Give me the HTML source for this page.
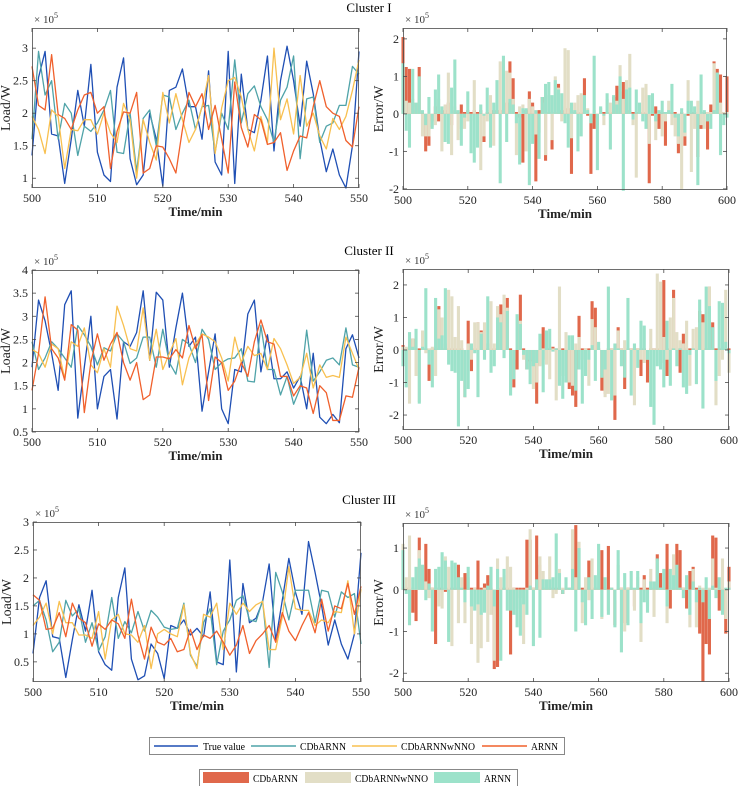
<!DOCTYPE html>
<html><head><meta charset="utf-8"><style>
body{margin:0;background:#fff;}
svg{display:block;font-family:"Liberation Serif",serif;}
</style></head><body>
<svg id="fig" width="739" height="786" viewBox="0 0 739 786" xmlns="http://www.w3.org/2000/svg">
<text x="369" y="12" text-anchor="middle" font-size="13">Cluster I</text>
<text x="369" y="255" text-anchor="middle" font-size="13">Cluster II</text>
<text x="369" y="504" text-anchor="middle" font-size="13">Cluster III</text>
<g id="legend1">
<rect x="149.5" y="737.5" width="415" height="17" fill="#fff" stroke="#888"/>
<line x1="154" y1="746" x2="198" y2="746" stroke="#1f4fb4" stroke-width="1.5"/>
<text x="203" y="750" font-size="10.5" textLength="42" lengthAdjust="spacingAndGlyphs">True value</text>
<line x1="251" y1="746" x2="296" y2="746" stroke="#4fa3a8" stroke-width="1.5"/>
<text x="300" y="750" font-size="10.5" textLength="46" lengthAdjust="spacingAndGlyphs">CDbARNN</text>
<line x1="352" y1="746" x2="397" y2="746" stroke="#f8c050" stroke-width="1.5"/>
<text x="401" y="750" font-size="10.5" textLength="74" lengthAdjust="spacingAndGlyphs">CDbARNNwNNO</text>
<line x1="482" y1="746" x2="527" y2="746" stroke="#f0602c" stroke-width="1.5"/>
<text x="531" y="750" font-size="10.5" textLength="27" lengthAdjust="spacingAndGlyphs">ARNN</text>
</g>
<g id="legend2">
<rect x="199.5" y="769.5" width="318" height="17" fill="#fff" stroke="#888"/>
<rect x="203" y="772" width="46" height="11" fill="#e0684b"/>
<text x="253" y="782" font-size="10.5" textLength="45" lengthAdjust="spacingAndGlyphs">CDbARNN</text>
<rect x="305" y="772" width="46" height="11" fill="#e2dec6"/>
<text x="355" y="782" font-size="10.5" textLength="73" lengthAdjust="spacingAndGlyphs">CDbARNNwNNO</text>
<rect x="434" y="772" width="46" height="11" fill="#9ce2ca"/>
<text x="484" y="782" font-size="10.5" textLength="27" lengthAdjust="spacingAndGlyphs">ARNN</text>
</g>
</svg>
<script>
// ---------- Line data (x = 500..550) ----------
const lineTime = [500,501,502,503,504,505,506,507,508,509,510,511,512,513,514,515,516,517,518,519,520,521,522,523,524,525,526,527,528,529,530,531,532,533,534,535,536,537,538,539,540,541,542,543,544,545,546,547,548,549,550];
const c1True=[1.35,2.55,2.95,1.68,1.65,0.92,1.6,2.35,1.8,2.75,1.4,1.05,0.95,2.4,2.85,1.3,0.9,1.05,2.0,1.6,0.88,2.35,2.4,2.68,2.1,2.1,1.6,2.65,1.25,1.05,2.95,0.92,2.6,1.75,1.7,2.2,2.88,1.42,2.5,3.03,2.5,1.8,2.8,2.3,1.6,1.1,1.45,1.05,0.85,1.5,2.95];
const c1Cdb=[1.6,2.95,2.28,2.5,1.6,2.15,2.0,1.35,1.8,1.72,1.85,2.05,2.35,1.4,1.38,2.0,1.1,1.92,2.05,1.5,2.28,2.25,1.75,2.0,2.2,1.75,2.1,2.12,1.4,2.0,1.75,2.82,1.85,2.3,2.42,2.1,1.9,1.55,2.2,2.4,2.88,1.3,2.22,2.25,1.55,1.8,1.85,2.12,2.12,2.72,2.6];
const c1Wnno=[1.95,1.75,1.38,2.05,1.95,1.15,1.75,1.73,1.9,1.9,1.68,2.0,1.7,1.55,2.15,1.9,1.0,1.9,1.55,1.28,2.32,1.85,2.3,1.9,1.55,1.75,2.1,2.58,1.38,2.08,2.5,2.55,2.25,1.75,1.42,1.95,1.55,3.0,1.9,2.22,1.68,2.58,1.8,2.0,1.65,1.45,1.92,1.75,1.95,2.35,2.82];
const c1Arnn=[2.72,2.12,2.05,2.9,1.98,1.92,1.75,2.05,2.28,2.32,2.0,2.1,1.15,1.72,2.02,2.0,2.32,1.08,1.15,1.5,1.48,1.3,1.08,1.75,2.32,2.1,2.3,1.75,2.12,1.6,1.08,2.48,1.78,1.48,1.98,1.9,1.52,1.55,1.7,1.12,1.42,1.65,1.62,2.1,2.5,2.1,2.0,1.95,1.58,1.48,2.1];
const c2True=[1.9,3.35,2.9,2.2,1.4,3.25,3.55,0.8,1.9,3.0,1.0,1.7,1.85,0.78,2.45,2.35,2.65,3.55,2.05,3.52,3.35,1.9,2.75,3.5,2.35,2.55,0.95,1.8,2.62,1.0,0.68,1.85,1.8,3.05,3.35,1.8,2.6,1.65,1.65,1.8,1.45,1.7,1.0,2.2,0.82,0.68,0.88,0.7,2.3,2.6,2.1];
const c2Cdb=[2.45,1.85,2.1,2.45,2.3,2.1,1.9,2.8,2.6,2.35,1.95,2.32,2.25,2.62,2.45,1.98,2.1,2.55,2.55,1.9,2.72,2.0,1.75,2.5,2.4,2.0,2.72,2.5,1.85,2.0,2.08,2.1,2.3,1.6,1.58,2.8,1.85,1.85,1.3,1.7,1.1,1.45,2.7,1.6,1.8,2.05,2.1,1.95,2.75,1.95,1.9];
const c2Wnno=[2.28,2.2,1.9,2.4,2.3,1.65,2.45,2.35,2.75,1.95,1.78,2.3,1.9,3.22,2.8,2.3,2.25,3.18,2.05,2.72,1.85,2.2,2.52,1.52,2.1,2.4,2.62,2.55,2.45,2.1,1.6,2.55,2.0,2.35,2.15,2.2,1.85,2.52,2.3,1.95,1.55,1.68,2.2,1.45,1.95,1.68,1.72,1.68,2.55,2.2,1.85];
const c2Arnn=[1.4,2.2,3.42,2.3,2.1,1.62,2.82,2.7,0.92,2.0,2.62,2.05,2.4,2.65,2.0,1.62,2.0,1.2,1.3,2.12,2.12,2.08,2.28,2.1,2.8,2.3,2.6,1.18,2.12,2.0,1.4,1.6,2.0,1.7,2.45,2.92,2.45,2.4,1.7,1.7,1.28,1.5,1.45,0.9,1.5,1.35,0.75,0.75,1.28,1.25,1.9];
const c3True=[0.65,1.65,1.95,0.95,0.92,0.22,0.9,1.52,1.05,1.78,0.68,0.45,0.35,1.65,2.18,0.55,0.18,0.25,0.82,0.65,0.2,1.15,1.1,1.25,0.98,1.1,0.95,1.75,0.5,0.45,2.32,0.32,1.9,1.2,1.28,1.58,2.25,0.88,1.6,2.35,1.75,1.35,2.65,2.1,1.5,0.8,1.25,0.82,0.55,1.0,2.45];
const c3Cdb=[1.5,1.6,1.25,0.68,0.85,1.6,1.32,1.45,0.85,1.2,0.7,0.95,1.65,0.92,1.22,1.02,1.4,1.05,1.42,1.3,1.12,1.08,1.1,1.55,0.62,0.42,1.2,1.45,0.45,1.05,1.25,1.6,1.68,1.25,1.22,1.6,0.4,2.1,1.75,1.25,1.78,1.78,1.78,1.2,1.78,1.75,1.3,1.75,1.65,1.72,0.82];
const c3Wnno=[1.15,1.3,1.55,1.0,1.58,1.2,1.2,0.98,0.98,0.92,1.4,0.55,1.25,1.35,1.0,0.98,0.85,1.15,0.38,1.0,1.08,1.0,0.95,1.52,0.65,0.38,1.35,1.3,1.55,0.72,1.55,1.35,1.55,1.4,1.52,1.58,0.72,0.72,1.3,2.2,1.45,1.42,1.42,1.15,1.25,1.2,1.4,1.38,1.95,1.0,1.8];
const c3Arnn=[1.7,1.6,1.08,1.1,1.38,0.95,1.55,1.28,1.2,0.78,1.18,1.08,1.25,1.18,0.92,1.62,0.98,0.55,1.12,0.85,0.8,0.92,0.68,0.72,1.08,0.72,0.98,0.92,1.05,0.85,0.62,0.8,1.15,0.65,0.88,1.0,1.15,0.85,1.38,1.05,0.88,1.15,1.38,1.02,1.62,1.05,1.5,1.45,1.9,1.35,1.85];

// ---------- Error bar data (x = 500..600) ----------
const e1Arnn=[1.35,-0.45,-0.9,1.2,0.3,1.0,0.1,-0.3,0.45,-0.4,0.65,1.05,0.2,-0.75,-0.8,0.7,1.45,0.1,-0.85,-0.1,0.6,-1.05,-1.3,-0.9,0.25,-0.05,0.7,-0.9,0.3,0.9,-1.85,1.55,-0.75,0.4,0.25,-0.25,-1.35,0.15,0.15,-1.9,-0.8,0.1,-1.2,0.45,0.8,0.85,0.5,0.9,0.65,0.55,-0.25,-0.9,0.3,0.1,-1.0,-0.6,0.5,0.1,-0.25,1.55,-1.5,0.2,-0.05,0.55,-0.95,0.5,0.25,1.0,-2.05,0.65,0.7,-0.15,0.65,0.3,-0.2,-0.4,0.5,0.55,-0.2,0.1,0.35,0.05,0.1,0.8,-0.1,-0.6,0.15,-0.5,0.35,0.35,0.2,-1.9,1.05,0.1,-0.2,-0.4,0.1,1.1,-1.1,-0.3,-0.1];
const e1Wnno=[0.9,0.35,0.3,0.4,0.2,0.9,-0.6,-0.6,-0.6,-0.35,-0.3,0.4,-1.0,0.25,1.1,-1.1,0.2,-0.7,-0.4,-0.4,-0.2,-0.2,0.9,-0.3,-1.5,-0.6,-0.2,0.5,-0.85,0.25,1.4,1.4,1.15,1.1,0.4,-1.1,0.2,0.25,-1.0,0.4,0.2,-0.55,-0.5,0.3,-1.1,0.5,-0.7,1.0,0.7,-0.2,1.75,1.7,-0.65,0.3,0.5,0.55,0.2,0.15,-0.2,0.1,-0.3,0.15,-0.3,0.4,0.3,0.35,0.35,1.3,0.4,0.9,1.6,-0.3,-1.7,0.1,0.7,0.8,-0.8,0.05,-0.7,0.05,-0.6,-0.2,0.35,-0.3,-0.6,-0.8,-2.0,-0.6,0.9,-1.55,-0.4,0.35,-0.3,-0.4,0.05,0.05,1.35,1.1,0.3,0.05,0.05];
const e1Cdb=[2.05,1.25,1.2,0.3,0.1,1.25,0.05,-1.0,-0.85,-0.2,0.2,-0.2,0.1,0.1,0.3,-0.3,0.1,0.05,0.25,0.05,0.1,0.05,0.1,0.05,0.1,-0.75,0.05,0.1,0.1,0.1,0.1,0.1,0.3,1.4,0.95,0.05,-0.1,-1.3,0.1,0.6,0.3,-1.8,0.1,0.45,-1.25,0.05,-0.95,0.05,0.8,0.1,0.2,0.15,-1.6,0.05,0.05,0.05,0.95,-0.05,-1.6,-0.4,-0.1,0.05,0.05,0.05,0.05,0.45,0.75,0.6,0.85,0.1,0.1,0.05,0.05,0.05,0.05,0.5,-1.85,-0.05,0.2,-0.4,0.05,-0.85,0.05,0.05,0.05,-1.05,0.05,-0.85,-0.05,0.05,0.05,-1.15,-0.4,0.05,-0.95,0.25,1.4,1.2,1.05,0.05,1.0];
const e2Arnn=[-0.5,-1.15,0.55,0.1,0.65,-1.65,0.1,1.9,-0.45,-1.15,1.6,0.35,0.45,1.9,-0.45,-0.65,-0.7,-2.35,-0.95,-1.45,-1.2,0.2,-0.1,-1.45,0.5,-0.3,1.65,-0.7,-0.5,1.0,0.85,-0.25,1.2,-1.4,-0.9,1.1,0.8,-0.15,-0.6,-1.05,-0.5,-0.4,0.5,-1.3,0.6,0.65,-0.05,0.05,-1.1,-1.5,-1.0,0.45,0.45,-1.25,-0.6,-1.65,-0.8,-0.3,0.15,-0.95,0.25,-0.85,-0.6,1.95,-1.55,0.2,0.05,-0.5,-0.85,1.6,-1.4,0.2,-0.55,0.9,0.75,-0.3,-1.75,-2.3,-0.5,-0.6,-1.15,0.9,-1.1,0.05,-0.5,0.05,-1.15,-1.35,-0.15,0.05,-1.05,1.55,-1.8,1.95,1.35,0.7,-0.95,1.5,1.45,0.25,-0.1];
const e2Wnno=[0.1,0.1,-1.65,0.35,-0.8,-1.6,0.6,-0.1,0.05,0.1,-0.8,1.25,1.0,0.2,1.85,1.65,0.4,1.35,0.3,-0.6,0.2,-0.3,0.85,0.85,0.55,0.85,0.2,1.5,0.2,1.35,1.1,1.7,1.3,-0.3,-0.3,0.05,0.9,-0.3,-0.3,-0.3,-1.2,-1.0,-0.5,0.05,-0.45,-0.9,0.05,-1.55,1.95,-0.8,0.55,-1.0,-1.1,0.2,0.4,-0.3,0.05,-1.1,0.95,0.7,0.05,-0.85,-1.45,-1.35,0.05,-1.4,0.6,0.05,0.3,0.05,0.05,-1.7,0.05,-0.3,-0.4,-0.3,0.65,0.05,2.35,2.1,0.4,-0.3,1.0,1.6,0.55,0.3,0.2,0.9,-1.1,0.65,0.7,0.85,0.85,0.05,1.95,0.05,-1.7,-0.8,-0.3,1.85,-0.7];
const e2Cdb=[0.15,0.05,0.05,0.35,0.05,0.05,0.05,0.05,-0.95,0.05,0.05,1.35,0.05,0.05,0.05,0.05,0.05,0.05,0.05,-1.45,0.9,-0.65,0.05,0.85,0.6,0.05,0.05,0.05,0.05,0.05,1.4,0.05,1.6,0.05,-1.15,-0.6,1.7,0.05,-0.6,-0.35,-0.5,-1.65,-0.45,0.7,-0.3,0.05,0.1,0.05,0.05,0.05,0.05,-1.2,-1.4,-1.75,1.05,0.05,0.05,0.05,1.5,1.3,0.05,-1.25,-1.35,0.05,0.05,-2.15,0.7,0.05,-1.2,0.05,0.05,0.05,0.05,-0.8,0.05,-1.0,0.05,0.05,0.05,-0.4,2.15,-0.8,0.05,1.85,0.05,-0.7,0.5,0.05,0.05,0.05,0.05,1.2,1.1,0.05,1.95,0.85,0.05,0.05,0.05,0.05,0.05];
const e3Arnn=[0.95,-0.1,-0.85,0.3,0.55,0.75,0.6,-0.25,0.15,-1.0,0.5,0.55,0.9,0.7,-1.25,0.7,0.65,0.3,0.05,-0.3,0.55,-0.4,-0.5,-0.35,-0.6,-0.55,0.1,0.55,-0.4,0.5,-1.7,0.5,-0.5,-0.5,-0.6,-0.9,-1.1,-0.35,-0.6,0.1,-1.35,0.25,-1.15,0.25,0.25,0.25,0.3,1.35,0.4,-0.1,0.3,0.05,0.5,-1.0,1.0,-0.3,-0.85,0.3,-0.7,0.35,1.1,-0.65,0.3,-0.6,0.05,-0.9,0.95,-1.5,0.4,-0.85,0.45,0.05,0.45,-0.8,-0.3,-0.55,0.2,0.2,0.75,0.05,0.5,-0.4,0.5,0.35,0.6,0.05,-0.2,0.35,-0.6,0.2,-0.3,0.05,-0.3,0.3,-0.7,0.1,-0.2,0.3,-0.6,0.05,0.05];
const e3Wnno=[1.1,0.3,1.3,0.05,0.3,0.95,0.05,0.2,-0.2,0.05,0.05,-0.4,-0.45,0.8,0.55,-1.35,0.05,-0.8,0.3,-0.8,0.3,-1.3,0.05,-1.75,-1.4,0.05,-1.25,-0.6,-1.7,0.75,0.3,0.35,0.8,0.55,0.05,-0.45,-0.2,-1.3,0.05,1.45,0.05,0.05,0.8,0.45,0.05,0.8,-0.2,-0.1,0.5,0.05,0.05,0.05,1.45,0.3,1.15,-0.8,0.3,-0.25,0.75,0.05,0.05,-0.7,0.05,-0.5,0.05,-0.25,0.6,0.05,-1.0,0.05,0.05,-0.5,0.3,-1.25,0.25,-0.4,0.5,-0.65,0.7,0.05,0.05,-0.8,0.05,0.85,0.05,0.05,0.05,0.3,-0.9,0.5,-0.9,0.1,0.05,0.05,0.05,0.75,0.05,0.05,0.75,-0.7,0.2];
const e3Cdb=[0.05,0.05,0.05,-0.55,-0.75,1.25,0.05,1.1,0.5,0.05,-1.3,0.05,0.05,-0.05,0.05,0.05,0.05,0.6,0.05,0.4,0.05,0.05,0.05,0.7,0.05,0.15,0.35,0.05,-1.9,-1.85,0.05,0.05,0.05,-1.55,0.05,0.05,0.05,0.05,1.2,1.2,0.05,1.3,0.6,0.05,0.05,0.05,0.05,0.05,0.05,-0.1,0.05,0.05,0.05,1.55,0.05,0.05,0.05,0.7,0.05,0.05,0.05,0.95,0.05,1.05,0.05,-0.85,0.05,0.05,-0.8,0.05,0.05,-0.4,0.05,0.05,0.35,0.05,0.05,0.05,0.85,0.4,0.05,1.1,-0.45,0.05,1.1,0.95,0.05,-0.45,0.45,0.55,0.05,-1.05,-2.2,-1.3,-1.55,1.3,1.25,-0.5,0.05,-1.05,0.55];
const barTime=[];for(let i=500;i<=600;i++)barTime.push(i);

// tick labels
const xTicksLeft=[500,510,520,530,540,550];
const xTicksRight=[500,520,540,560,580,600];
const yTicks1L=[1,1.5,2,2.5,3], yTicks1R=[-2,-1,0,1,2];
const yTicks2L=[0.5,1,1.5,2,2.5,3,3.5,4], yTicks2R=[-2,-1,0,1,2];
const yTicks3L=[0.5,1,1.5,2,2.5,3], yTicks3R=[-2,-1,0,1];

const NS="http://www.w3.org/2000/svg";
const svg=document.getElementById('fig');
function mk(tag,attrs,parent){const e=document.createElementNS(NS,tag);for(const k in attrs)e.setAttribute(k,attrs[k]);(parent||svg).appendChild(e);return e;}

function axes(p){
  const g=mk('g',{});
  
  
  const sx=v=>p.x0+(v-p.xmin)/(p.xmax-p.xmin)*(p.x1-p.x0);
  const sy=v=>p.y1-(v-p.ymin)/(p.ymax-p.ymin)*(p.y1-p.y0);
  p.sx=sx;p.sy=sy;p.g=g;
  mk('rect',{x:p.x0,y:p.y0,width:p.x1-p.x0,height:p.y1-p.y0,fill:'#fff'},g);
  return g;
}
function frame(p){
  const g=p.g;
  mk('rect',{x:p.x0+0.5,y:p.y0+0.5,width:p.x1-p.x0-1,height:p.y1-p.y0-1,fill:'none',stroke:'#4a4a4a','stroke-width':0.8},g);
  p.xt.forEach(v=>{const x=p.sx(v);
    mk('line',{x1:x,y1:p.y1,x2:x,y2:p.y1-4,stroke:'#4a4a4a','stroke-width':0.8},g);
    mk('line',{x1:x,y1:p.y0,x2:x,y2:p.y0+4,stroke:'#4a4a4a','stroke-width':0.8},g);
    const t=mk('text',{x:x,y:p.y1+14,'text-anchor':'middle','font-size':12,fill:'#222'},g);t.textContent=v;
    
    
  });
  p.yt.forEach(v=>{const y=p.sy(v);
    mk('line',{x1:p.x0,y1:y,x2:p.x0+4,y2:y,stroke:'#4a4a4a','stroke-width':0.8},g);
    mk('line',{x1:p.x1,y1:y,x2:p.x1-4,y2:y,stroke:'#4a4a4a','stroke-width':0.8},g);
    const t=mk('text',{x:p.x0-4,y:y+4,'text-anchor':'end','font-size':12,fill:'#222'},g);t.textContent=v;
    
    
  });
  const m=mk('text',{x:p.x0+2,y:p.y0-5,'font-size':11,fill:'#333'},g);
  m.innerHTML='× 10<tspan dy="-5" font-size="8">5</tspan>';
  
  
  const xl=mk('text',{x:(p.x0+p.x1)/2,y:p.y1+28,'text-anchor':'middle','font-size':13,'font-weight':'bold',fill:'#222'},g);xl.textContent='Time/min';
  
  
  const cy=(p.y0+p.y1)/2, cx=p.x0-(p.ylab==='Error/W'?20:22);
  const yl=mk('text',{x:cx,y:cy,'text-anchor':'middle','font-size':14,fill:'#222',transform:`rotate(-90 ${cx} ${cy})`},g);yl.textContent=p.ylab;
  
  
}
function linePanel(p,series){
  axes(p);
  const cols=['#1f4fb4','#4fa3a8','#f8c050','#f0602c'];
  const names=['true-value-line','cdbarnn-line','cdbarnnwnno-line','arnn-line'];
  [0,1,2,3].forEach(i=>{
    const d=series[i].map((v,k)=>(k?'L':'M')+p.sx(lineTime[k]).toFixed(2)+','+p.sy(v).toFixed(2)).join('');
    const path=mk('path',{d:d,fill:'none',stroke:cols[i],'stroke-width':1.3,'stroke-linejoin':'round'},p.g);
    
    
  });
  frame(p);
}
function barPanel(p,red,beige,teal){
  axes(p);
  const step=(p.x1-p.x0)/(p.xmax-p.xmin), w=step*0.95;
  const sets=[[red,'#e0684b','cdbarnn-bar'],[beige,'#e2dec6','cdbarnnwnno-bar'],[teal,'#9ce2ca','arnn-bar']];
  const y0=p.sy(0);
  sets.forEach(([arr,col,nm])=>{
    arr.forEach((v,k)=>{
      const x=p.sx(barTime[k])-w/2, y=p.sy(v);
      const r=mk('rect',{x:x.toFixed(2),y:Math.min(y,y0).toFixed(2),width:w.toFixed(2),height:Math.abs(y-y0).toFixed(2),fill:col},p.g);
      
      
    });
  });
  frame(p);
}
linePanel({name:'cluster1-load-chart',x0:32,x1:359,y0:28,y1:188,xmin:500,xmax:550,ymin:0.85,ymax:3.31,xt:xTicksLeft,yt:yTicks1L,ylab:'Load/W'},[c1True,c1Cdb,c1Wnno,c1Arnn]);
barPanel({name:'cluster1-error-chart',x0:403,x1:727,y0:28,y1:190,xmin:500,xmax:600,ymin:-2.03,ymax:2.29,xt:xTicksRight,yt:yTicks1R,ylab:'Error/W'},e1Cdb,e1Wnno,e1Arnn);
linePanel({name:'cluster2-load-chart',x0:32,x1:359,y0:270,y1:432,xmin:500,xmax:550,ymin:0.5,ymax:4,xt:xTicksLeft,yt:yTicks2L,ylab:'Load/W'},[c2True,c2Cdb,c2Wnno,c2Arnn]);
barPanel({name:'cluster2-error-chart',x0:403,x1:729,y0:269,y1:430,xmin:500,xmax:600,ymin:-2.46,ymax:2.49,xt:xTicksRight,yt:yTicks2R,ylab:'Error/W'},e2Cdb,e2Wnno,e2Arnn);
linePanel({name:'cluster3-load-chart',x0:33,x1:361,y0:522,y1:682,xmin:500,xmax:550,ymin:0.14,ymax:3,xt:xTicksLeft,yt:yTicks3L,ylab:'Load/W'},[c3True,c3Cdb,c3Wnno,c3Arnn]);
barPanel({name:'cluster3-error-chart',x0:403,x1:729,y0:523,y1:682,xmin:500,xmax:600,ymin:-2.21,ymax:1.6,xt:xTicksRight,yt:yTicks3R,ylab:'Error/W'},e3Cdb,e3Wnno,e3Arnn);
</script>
</body></html>
